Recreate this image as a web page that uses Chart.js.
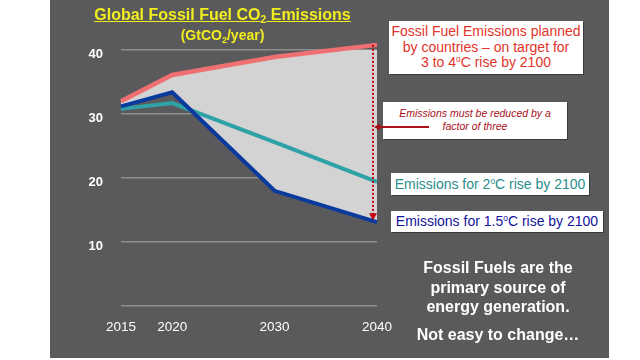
<!DOCTYPE html>
<html>
<head>
<meta charset="utf-8">
<script src="https://cdn.jsdelivr.net/npm/chart.js@4.4.1/dist/chart.umd.min.js"></script>
<style>
  html, body { margin: 0; padding: 0; background: #fff; }
  #wrap { position: relative; width: 640px; height: 360px; overflow: hidden; font-family: "Liberation Sans", Arial, sans-serif; }
  #panel { position: absolute; left: 50px; top: 0; width: 559px; height: 358px; background: #5a5a5c; }
  #chart { position: absolute; left: 0; top: 0; z-index: 3; }
  .title { position: absolute; left: 50px; width: 345px; text-align: center; color: #f2ee1e; font-weight: bold; z-index: 4; }
  .box { position: absolute; background: #fff; text-align: center; z-index: 2; box-shadow: 1px 1px 0 #3a3a3a; }
  .note { position: absolute; color: #fff; font-weight: bold; text-align: center; font-size: 16px; z-index: 4; }
  sup { font-size: 0.6em; vertical-align: 0.6em; line-height: 0; }
  sub { font-size: 0.65em; vertical-align: -0.3em; line-height: 0; }
</style>
</head>
<body>
<div id="wrap">
  <div id="panel"></div>

  <div class="title" style="top:6px; font-size:16px;"><span style="text-decoration:underline;">Global Fossil Fuel CO<sub>2</sub> Emissions</span></div>
  <div class="title" style="top:27px; font-size:14px;">(GtCO<sub>2</sub>/year)</div>

  <div class="box" style="left:389px; top:21px; width:194px; height:53px; color:#e2342c; font-size:14px; line-height:15.5px; padding-top:3px; box-sizing:border-box;">
    Fossil Fuel Emissions planned<br>by countries – on target for<br>3 to 4<sup>o</sup>C rise by 2100
  </div>
  <div class="box" style="left:383px; top:102px; width:184px; height:37px; color:#a8101a; font-size:10.5px; font-style:italic; line-height:13px; padding-top:5px; box-sizing:border-box;">
    Emissions must be reduced by a<br>factor of three
  </div>
  <div class="box" style="left:391px; top:173px; width:198px; height:22px; color:#2a8e8a; font-size:14px; line-height:22px;">
    Emissions for 2<sup>o</sup>C rise by 2100
  </div>
  <div class="box" style="left:391px; top:211px; width:212px; height:21px; color:#14149c; font-size:14px; line-height:21px;">
    Emissions for 1.5<sup>o</sup>C rise by 2100
  </div>

  <div class="note" style="left:400px; top:258px; width:196px; line-height:19.5px;">Fossil Fuels are the<br>primary source of<br>energy generation.</div>
  <div class="note" style="left:400px; top:326px; width:196px;">Not easy to change…</div>

  <canvas id="chart" width="640" height="360"></canvas>
</div>

<script>
// data (GtCO2/year)
const years = [2015, 2020, 2030, 2040];
const plannedEmissions = [32.0, 36.1, 38.9, 40.8];
const emissions15C = [31.2, 33.4, 18.0, 13.1];
const emissions2C = [30.8, 31.7, 25.6, 19.4];
const yTicks = [0, 10, 20, 30, 40];

const toPoints = (vals) => vals.map((v, i) => ({ x: years[i], y: v }));

// dotted "reduce by a factor of three" arrow at the 2040 end
const reductionArrow = {
  id: 'reductionArrow',
  afterDatasetsDraw(chart) {
    const { ctx, scales: { x, y } } = chart;
    const last = years.length - 1;
    const px = x.getPixelForValue(years[last]) - 4;
    const top = y.getPixelForValue(plannedEmissions[last]);
    const bottom = y.getPixelForValue(emissions15C[last]) - 2;
    ctx.save();
    ctx.strokeStyle = '#c00010';
    ctx.fillStyle = '#c00010';
    ctx.lineWidth = 2;
    ctx.setLineDash([2, 2]);
    ctx.beginPath();
    ctx.moveTo(px, top);
    ctx.lineTo(px, bottom - 5);
    ctx.stroke();
    ctx.setLineDash([]);
    ctx.beginPath();
    ctx.moveTo(px - 4, bottom - 7);
    ctx.lineTo(px + 4, bottom - 7);
    ctx.lineTo(px, bottom);
    ctx.closePath();
    ctx.fill();
    // horizontal pointer from the note box
    const ay = 127;
    ctx.strokeStyle = '#a8101a';
    ctx.fillStyle = '#a8101a';
    ctx.lineWidth = 2;
    ctx.beginPath();
    ctx.moveTo(429, ay);
    ctx.lineTo(px + 5, ay);
    ctx.stroke();
    ctx.beginPath();
    ctx.moveTo(px + 1, ay);
    ctx.lineTo(px + 7, ay - 3.5);
    ctx.lineTo(px + 7, ay + 3.5);
    ctx.closePath();
    ctx.fill();
    ctx.restore();
  }
};

new Chart(document.getElementById('chart'), {
  type: 'line',
  data: {
    datasets: [
      {
        label: 'Planned',
        data: toPoints(plannedEmissions),
        borderColor: '#f07072',
        borderWidth: 4.5,
        backgroundColor: '#d3d3d3',
        fill: 1,
        clip: false,
        pointRadius: 0,
        tension: 0
      },
      {
        label: '1.5C',
        data: toPoints(emissions15C),
        borderColor: '#0a3a9e',
        borderWidth: 4,
        fill: false,
        clip: false,
        pointRadius: 0,
        tension: 0
      },
      {
        label: '2C',
        data: toPoints(emissions2C),
        borderColor: '#2fa2a8',
        borderWidth: 4,
        fill: false,
        clip: false,
        pointRadius: 0,
        tension: 0
      }
    ]
  },
  options: {
    responsive: false,
    animation: false,
    layout: { padding: { left: 0, top: 50, right: 263, bottom: 0 } },
    plugins: {
      legend: { display: false },
      tooltip: { enabled: false },
      filler: { drawTime: 'beforeDatasetsDraw' }
    },
    scales: {
      x: {
        type: 'linear',
        min: years[0],
        max: years[years.length - 1],
        afterBuildTicks: (scale) => { scale.ticks = years.map(v => ({ value: v })); },
        afterFit: (scale) => { scale.height = 54; },
        grid: { display: false },
        border: { display: false },
        ticks: {
          color: '#ffffff',
          padding: 5,
          maxRotation: 0,
          font: { family: 'Liberation Sans', size: 13.5 },
          callback: (v) => String(v)
        }
      },
      y: {
        min: 0,
        max: 40,
        afterBuildTicks: (scale) => { scale.ticks = yTicks.map(v => ({ value: v })); },
        afterFit: (scale) => { scale.width = 121; },
        grid: { color: '#8e8e8e', lineWidth: 1.5, drawTicks: false },
        border: { display: false },
        ticks: {
          color: '#ffffff',
          padding: 18,
          labelOffset: 4,
          font: { family: 'Liberation Sans', size: 13, weight: 'bold' },
          callback: (v) => (v === 0 ? '' : v)
        }
      }
    }
  },
  plugins: [reductionArrow]
});
</script>
</body>
</html>
